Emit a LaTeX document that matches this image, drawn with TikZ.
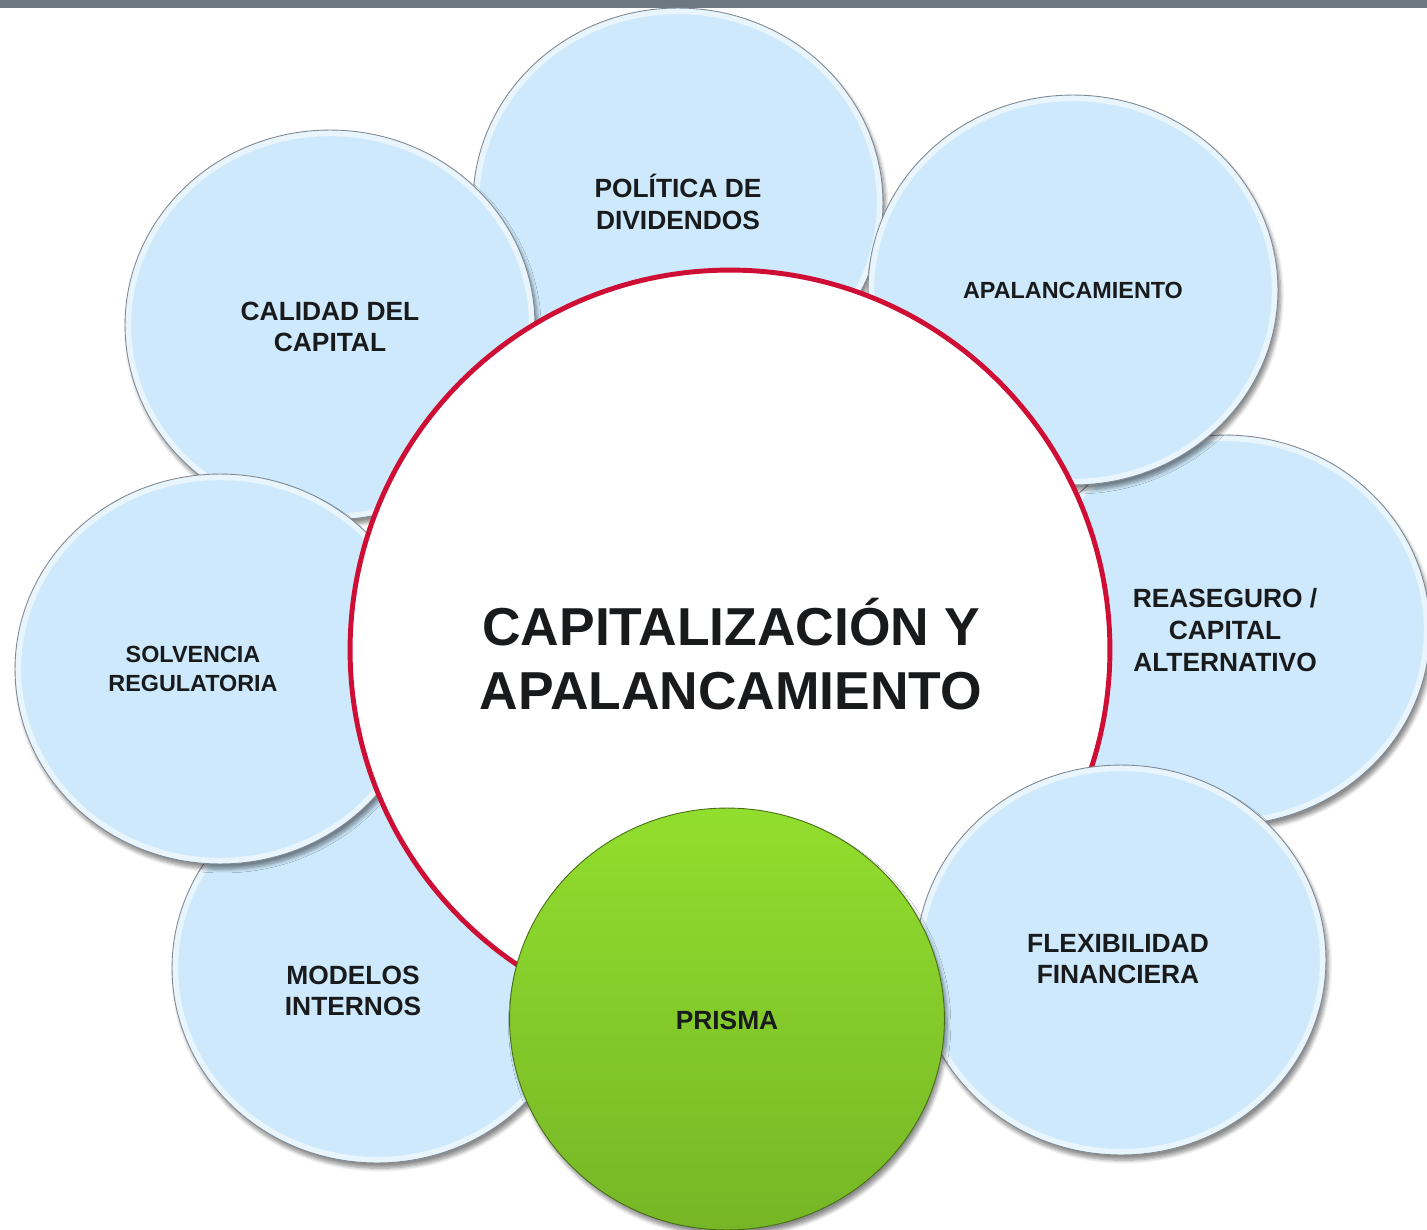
\documentclass[tikz,border=0pt]{standalone}
\usepackage{fontspec}
\setmainfont{Liberation Sans}
\usetikzlibrary{shapes.geometric,shadows.blur}
\definecolor{bleuBulle}{RGB}{205,233,251}
\definecolor{grisBord}{RGB}{128,136,146}
\definecolor{rougeAnneau}{RGB}{206,14,52}
\definecolor{vertHaut}{RGB}{146,222,46}
\definecolor{vertBas}{RGB}{118,182,38}
\definecolor{grisBandeau}{RGB}{108,120,128}
\definecolor{encre}{RGB}{24,26,28}
\begin{document}
\begin{tikzpicture}[x=0.02cm,y=-0.02cm]
			\tikzstyle{bulle}=[ellipse,minimum width=8.2cm,minimum height=7.8cm,inner sep=0pt,fill=bleuBulle,draw=grisBord,line width=0.5pt,
				blur shadow={shadow xshift=1.5pt,shadow yshift=-3pt,shadow blur steps=6,shadow opacity=45},
				path picture={\draw[white,opacity=0.55,line width=7pt] (path picture bounding box.center) ellipse [x radius=4.1cm,y radius=3.9cm];}]
			\tikzstyle{anneau}=[circle,minimum size=15.2cm,inner sep=0pt,fill=white,draw=rougeAnneau,line width=2.8pt]
			\tikzstyle{prisme}=[ellipse,minimum width=8.7cm,minimum height=8.44cm,inner sep=0pt,top color=vertHaut,bottom color=vertBas,draw=vertBas!60!black,line width=0.5pt,
				blur shadow={shadow xshift=1.5pt,shadow yshift=-3pt,shadow blur steps=6,shadow opacity=45}]
			\tikzstyle{texte}=[align=center,text=encre,font=\bfseries\fontsize{15}{18}\selectfont]
			\tikzstyle{petit}=[texte,font=\bfseries\fontsize{13.3}{16}\selectfont]
			\tikzstyle{titre}=[align=center,text=encre,font=\bfseries\fontsize{30.4}{36}\selectfont]
			\useasboundingbox (0,0) rectangle (1427,1230);
			\clip (0,0) rectangle (1427,1230);
			\fill[grisBandeau] (0,0) rectangle (1427,8);
			\node[bulle] (Politique) at (678,203) {};
			\node[bulle] (Reassurance) at (1225,630) {};
			\node[bulle] (Modeles) at (377,968) {};
			\node[bulle] (Qualite) at (330,325) {};
			\node[bulle] (Levier) at (1073,290) {};
			\node[bulle] (Solvabilite) at (220,669) {};
			\node[anneau] (Centre) at (730,650) {};
			\node[bulle] (Flexibilite) at (1121,960) {};
			\node[prisme] (Prisma) at (727,1019) {};
			\node[titre] (tCentre) at (731,654) {CAPITALIZACIÓN Y\\APALANCAMIENTO};
			\node[texte] (tPolitique) at (678,202) {POLÍTICA DE\\DIVIDENDOS};
			\node[texte] (tQualite) at (330,327) {CALIDAD DEL\\CAPITAL};
			\node[petit] (tLevier) at (1073,290) {APALANCAMIENTO};
			\node[texte] (tReassurance) at (1225,630) {REASEGURO /\\CAPITAL\\ALTERNATIVO};
			\node[petit] (tSolvabilite) at (193,669) {SOLVENCIA\\REGULATORIA};
			\node[texte] (tModeles) at (353,991) {MODELOS\\INTERNOS};
			\node[texte] (tFlexibilite) at (1118,959) {FLEXIBILIDAD\\FINANCIERA};
			\node[texte] (tPrisma) at (727,1020) {PRISMA};
		\end{tikzpicture}
\end{document}
